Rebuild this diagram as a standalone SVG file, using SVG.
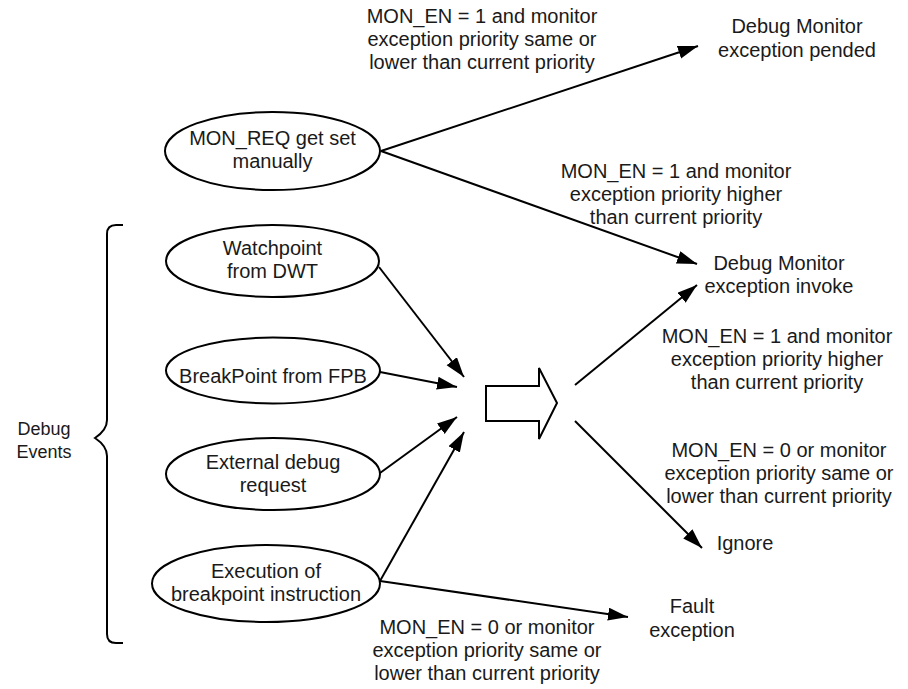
<svg xmlns="http://www.w3.org/2000/svg" width="908" height="689" viewBox="0 0 908 689">
<defs>
<style>
text{font-family:"Liberation Sans",Arial,sans-serif;font-size:20px;fill:#1a1a1a;text-anchor:middle}
.n{fill:#fff;stroke:#000;stroke-width:2}
.c{stroke:#000;stroke-width:2;fill:none;marker-end:url(#ah)}
.s{stroke:#000;stroke-width:2;fill:none}
</style>
<marker id="ah" markerUnits="userSpaceOnUse" markerWidth="22" markerHeight="14" refX="20" refY="6.5" orient="auto">
<path d="M0,0 L20,6.5 L0,13 z" fill="#000"/>
</marker>
</defs>
<rect width="908" height="689" fill="#fff"/>
<g id="connectors">
<line class="c" x1="381" y1="151" x2="698" y2="46"/>
<line class="c" x1="381" y1="151" x2="697" y2="264"/>
<line class="c" x1="379" y1="267" x2="464" y2="377"/>
<line class="c" x1="380" y1="372" x2="457" y2="387"/>
<line class="c" x1="380" y1="473" x2="457" y2="417"/>
<line class="c" x1="380" y1="581" x2="464" y2="432"/>
<line class="c" x1="380" y1="581" x2="628" y2="617"/>
<line class="c" x1="575" y1="385" x2="697" y2="285"/>
<line class="c" x1="575" y1="421" x2="702" y2="548"/>
</g>
<g id="brace">
<path class="s" d="M123,225 H116 Q107,225 107,234 V420 Q107,430 95,438 Q107,446 107,456 V634 Q107,643 116,643 H123"/>
<text x="44" y="435" style="font-size:18px">Debug</text>
<text x="44" y="458" style="font-size:18px">Events</text>
</g>
<g id="block-arrow">
<path class="s" d="M486,386 H539 V368 L557,403 L539,439 V421 H486 Z"/>
</g>
<g id="mon-req">
<ellipse class="n" cx="272.5" cy="151" rx="107.5" ry="39"/>
<text x="272.5" y="145">MON_REQ get set</text>
<text x="272.5" y="168">manually</text>
</g>
<g id="watchpoint">
<ellipse class="n" cx="272.5" cy="261" rx="106.5" ry="36"/>
<text x="272.5" y="255">Watchpoint</text>
<text x="272.5" y="278">from DWT</text>
</g>
<g id="breakpoint-fpb">
<ellipse class="n" cx="273" cy="370.5" rx="107" ry="33"/>
<text x="273" y="383">BreakPoint from FPB</text>
</g>
<g id="external">
<ellipse class="n" cx="273" cy="474" rx="107" ry="36"/>
<text x="273" y="469">External debug</text>
<text x="273" y="492">request</text>
</g>
<g id="execution">
<ellipse class="n" cx="266" cy="583.5" rx="114" ry="38.5"/>
<text x="266" y="578">Execution of</text>
<text x="266" y="601">breakpoint instruction</text>
</g>
<g id="pended">
<text x="797" y="33">Debug Monitor</text>
<text x="797" y="57">exception pended</text>
</g>
<g id="invoke">
<text x="779" y="270">Debug Monitor</text>
<text x="779" y="293">exception invoke</text>
</g>
<g id="ignore">
<text x="745" y="550">Ignore</text>
</g>
<g id="fault">
<text x="692" y="613">Fault</text>
<text x="692" y="637">exception</text>
</g>
<g id="labels">
<text x="482" y="23">MON_EN = 1 and monitor</text>
<text x="482" y="46">exception priority same or</text>
<text x="482" y="69">lower than current priority</text>
<text x="676" y="178">MON_EN = 1 and monitor</text>
<text x="676" y="201">exception priority higher</text>
<text x="676" y="224">than current priority</text>
<text x="777" y="343">MON_EN = 1 and monitor</text>
<text x="777" y="366">exception priority higher</text>
<text x="777" y="389">than current priority</text>
<text x="779" y="457">MON_EN = 0 or monitor</text>
<text x="779" y="480">exception priority same or</text>
<text x="779" y="503">lower than current priority</text>
<text x="487" y="634">MON_EN = 0 or monitor</text>
<text x="487" y="657">exception priority same or</text>
<text x="487" y="680">lower than current priority</text>
</g>
</svg>
